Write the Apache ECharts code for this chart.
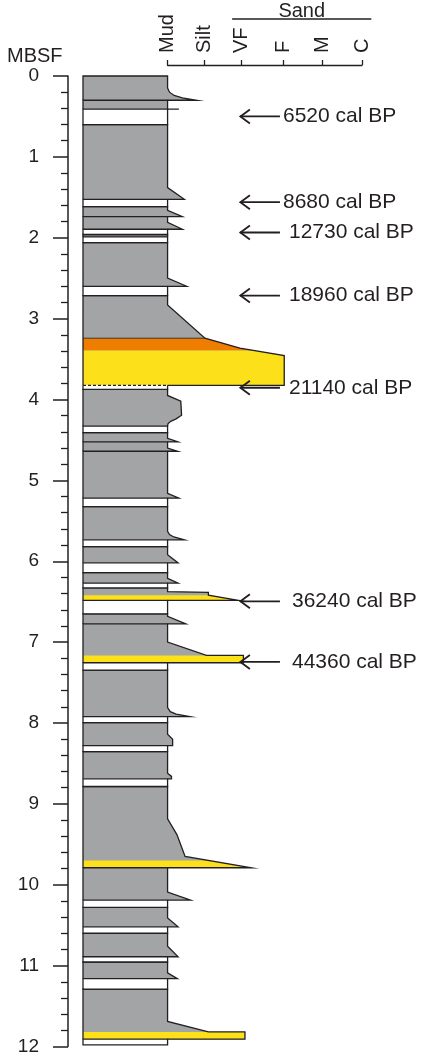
<!DOCTYPE html>
<html>
<head>
<meta charset="utf-8">
<script src="https://cdn.jsdelivr.net/npm/echarts@6/dist/echarts.min.js"></script>
<style>
  html, body { margin: 0; padding: 0; background: #fff; }
  #chart { width: 427px; height: 1056px; }
</style>
</head>
<body>
<div id="chart"></div>
<script>
// ---- Grain-size scale (header) ----
const grainNames  = ['Mud', 'Silt', 'VF', 'F', 'M', 'C'];
const grainValues = [0, 0.94, 1.9, 2.97, 3.98, 5];

// ---- Core depth range (m below sea floor) ----
const depthTop = 0;
const depthBase = 12;

// ---- Beds: right-hand grain-size outline as [depth, grain], top to base ----
const bedEdges = [
  [[0, 0], [0.15, 0], [0.2, 0.05], [0.24, 0.17], [0.27, 0.38], [0.3, 0.75]],
  [[0.3, 0], [0.41, 0], [0.41, 0.29]],
  [[0.6, 0], [1.38, 0], [1.525, 0.43]],
  [[1.615, 0], [1.66, 0], [1.74, 0.38]],
  [[1.74, 0], [1.81, 0], [1.895, 0.38]],
  [[1.96, 0], [1.99, 0]],
  [[2.06, 0], [2.5, 0], [2.6, 0.49]],
  [[2.715, 0], [2.83, 0], [3.242, 0.96], [3.365, 1.86], [3.456, 3.0], [3.825, 3.0]],
  [[3.875, 0], [3.95, 0], [4.02, 0.34], [4.195, 0.36], [4.24, 0.22], [4.27, 0.08], [4.3, 0.01], [4.33, 0]],
  [[4.41, 0], [4.48, 0], [4.525, 0.27]],
  [[4.525, 0], [4.6, 0], [4.64, 0.26]],
  [[4.64, 0], [5.16, 0], [5.22, 0.29]],
  [[5.325, 0], [5.63, 0], [5.67, 0.05], [5.7, 0.16], [5.735, 0.43]],
  [[5.82, 0], [5.92, 0], [6.02, 0.27]],
  [[6.14, 0], [6.21, 0], [6.27, 0.27]],
  [[6.33, 0], [6.375, 0], [6.385, 1.05], [6.42, 1.05], [6.485, 1.82]],
  [[6.65, 0], [6.68, 0], [6.775, 0.47]],
  [[6.775, 0], [7.0, 0], [7.165, 1.0], [7.165, 1.95], [7.255, 1.95]],
  [[7.345, 0], [7.81, 0], [7.86, 0.07], [7.89, 0.22], [7.92, 0.57]],
  [[7.995, 0], [8.14, 0], [8.2, 0.13], [8.28, 0.13]],
  [[8.355, 0], [8.62, 0], [8.66, 0.1], [8.69, 0.1]],
  [[8.785, 0], [9.185, 0], [9.38, 0.24], [9.65, 0.45], [9.79, 2.16]],
  [[9.79, 0], [10.09, 0], [10.19, 0.59]],
  [[10.28, 0], [10.41, 0], [10.52, 0.27]],
  [[10.6, 0], [10.76, 0], [10.89, 0.27]],
  [[10.955, 0], [11.09, 0], [11.16, 0.25]],
  [[11.29, 0], [11.69, 0], [11.82, 1.05], [11.82, 1.99], [11.91, 1.99]]
];

// ---- Sand layers inside beds: [top, base, kind] ----
const sandBands = [
  [3.242, 3.395, 'orange'],
  [3.395, 3.825, 'yellow'],
  [6.42, 6.485, 'yellow'],
  [7.165, 7.255, 'yellow'],
  [9.70, 9.79, 'yellow'],
  [11.82, 11.91, 'yellow']
];

// ---- Intervals without sediment: [top, base] ----
const gaps = [
  [0.41, 0.6], [1.525, 1.615], [1.895, 1.96], [1.99, 2.06], [2.6, 2.715],
  [3.825, 3.875], [4.33, 4.41], [5.22, 5.325], [5.735, 5.82], [6.02, 6.14],
  [6.27, 6.33], [6.485, 6.65], [7.255, 7.345], [7.92, 7.995], [8.28, 8.355],
  [8.69, 8.785], [10.19, 10.28], [10.52, 10.6], [10.89, 10.955], [11.16, 11.29],
  [11.91, 11.98]
];
const dashedGapTops = [3.825];

// ---- Radiocarbon ages ----
const ageDepths = [0.5, 1.56, 1.935, 2.715, 3.855, 6.495, 7.245];
const ageLabels = ['6520 cal BP', '8680 cal BP', '12730 cal BP', '18960 cal BP',
                   '21140 cal BP', '36240 cal BP', '44360 cal BP'];

// ---- Styling ----
const FONT = '"Liberation Sans", Arial, Helvetica, sans-serif';
const INK = '#231f20';
const MUD_FILL = '#a3a4a6';
const BAND_FILL = { orange: '#ef7d00', yellow: '#fce019' };
const X_MIN = -2.175, X_MAX = 5;          // column left edge .. coarse sand
const ARROW_TIP = 1.86, ARROW_END = 2.89;
const LABEL_GAP = [3, 3, 9, 9, 9, 12, 12]; // px between arrow tail and its label

function interpAt(edge, d, fromTop) {
  for (let j = 0; j < edge.length - 1; j++) {
    const a = edge[j], c = edge[j + 1];
    const hit = fromTop ? (d >= a[0] && d < c[0]) : (d > a[0] && d <= c[0]);
    if (hit) {
      const f = (d - a[0]) / (c[0] - a[0]);
      return [d, a[1] + f * (c[1] - a[1])];
    }
  }
  return fromTop ? edge[0] : edge[edge.length - 1];
}

function renderBed(params, api) {
  const edge = bedEdges[api.value(2)];
  const P = (g, d) => api.coord([g, d]);
  const top = edge[0][0], base = edge[edge.length - 1][0];
  const right = edge.map(p => P(p[1], p[0]));
  const children = [{
    type: 'polygon',
    shape: { points: [P(X_MIN, base), P(X_MIN, top)].concat(right) },
    style: { fill: MUD_FILL }
  }];
  sandBands.forEach(b => {
    if (b[0] < top - 1e-9 || b[1] > base + 1e-9) return;
    const a = interpAt(edge, b[0], true), z = interpAt(edge, b[1], false);
    const mid = edge.filter(p => p[0] > b[0] && p[0] < b[1]);
    const pts = [P(X_MIN, b[0]), P(a[1], a[0])]
      .concat(mid.map(p => P(p[1], p[0])))
      .concat([P(z[1], z[0]), P(X_MIN, b[1])]);
    children.push({ type: 'polygon', shape: { points: pts }, style: { fill: BAND_FILL[b[2]] } });
    if (b[2] === 'orange') {
      children.push({ type: 'polyline', shape: { points: [P(X_MIN, b[0]), P(a[1], a[0])] },
        style: { stroke: INK, lineWidth: 0.8, fill: null } });
    }
  });
  // outline: base from flare tip back to mud line, profile up, top, left side down
  const outline = [P(0, base)].concat(right.slice().reverse())
    .concat([P(X_MIN, top), P(X_MIN, base)]);
  children.push({
    type: 'polyline', shape: { points: outline },
    style: { stroke: INK, lineWidth: 1.3, fill: null, lineJoin: 'miter', miterLimit: 20 }
  });
  return { type: 'group', children: children };
}

function renderGap(params, api) {
  const g = gaps[api.value(2)];
  const P = (x, d) => api.coord([x, d]);
  const tl = P(X_MIN, g[0]), br = P(0, g[1]);
  const dashed = dashedGapTops.indexOf(g[0]) >= 0;
  const children = [{
    type: 'rect',
    shape: { x: tl[0], y: tl[1], width: br[0] - tl[0], height: br[1] - tl[1] },
    style: { fill: '#fff', stroke: dashed ? null : INK, lineWidth: 1.3 }
  }];
  if (dashed) {
    children.push({ type: 'polyline', shape: { points: [[br[0], tl[1]], [br[0], br[1]], [tl[0], br[1]], [tl[0], tl[1]]] },
      style: { stroke: INK, lineWidth: 1.3, fill: null } });
    children.push({ type: 'line', shape: { x1: tl[0], y1: tl[1], x2: br[0], y2: tl[1] },
      style: { stroke: INK, lineWidth: 1.3, lineDash: [3, 2] } });
  }
  return { type: 'group', children: children };
}

function renderAge(params, api) {
  const i = api.value(2);
  const tip = api.coord([ARROW_TIP, ageDepths[i]]);
  const end = api.coord([ARROW_END, ageDepths[i]]);
  const line = { stroke: INK, lineWidth: 1.8, fill: null };
  return {
    type: 'group',
    children: [
      { type: 'line', shape: { x1: tip[0], y1: tip[1], x2: end[0], y2: end[1] }, style: line },
      { type: 'polyline', shape: { points: [[tip[0] + 10, tip[1] - 7], [tip[0] + 0.5, tip[1]], [tip[0] + 10, tip[1] + 7]] },
        style: Object.assign({ lineJoin: 'miter' }, line) },
      { type: 'text', style: { text: ageLabels[i], x: end[0] + LABEL_GAP[i], y: end[1], align: 'left', verticalAlign: 'middle',
        font: '21px ' + FONT, fill: INK } }
    ]
  };
}

const chart = echarts.init(document.getElementById('chart'), null, { renderer: 'canvas' });

chart.setOption({
  animation: false,
  backgroundColor: '#fff',
  title: {
    text: 'MBSF', left: 7, top: 46, padding: 0,
    textStyle: { fontFamily: FONT, fontSize: 20, fontWeight: 'normal', color: INK }
  },
  grid: [
    { left: 83, right: 65, top: 76, bottom: 6 },
    { left: 167.6, right: 65, top: 65, height: 10 }
  ],
  xAxis: [
    { gridIndex: 0, type: 'value', min: X_MIN, max: X_MAX, show: false },
    {
      gridIndex: 1, type: 'value', position: 'top', min: 0, max: 5,
      axisLine: { show: true, onZero: false, lineStyle: { color: INK, width: 1.3 } },
      axisTick: { show: true, length: 5, customValues: grainValues, lineStyle: { color: INK, width: 1.3 } },
      axisLabel: {
        show: true, customValues: grainValues, rotate: -90, margin: 12,
        fontSize: 20, fontFamily: FONT, color: INK,
        formatter: v => {
          let k = 0;
          grainValues.forEach((g, j) => { if (Math.abs(g - v) < Math.abs(grainValues[k] - v)) k = j; });
          return grainNames[k];
        }
      },
      splitLine: { show: false }
    }
  ],
  yAxis: [
    {
      gridIndex: 0, type: 'value', inverse: true, min: depthTop, max: depthBase, interval: 1, offset: 15,
      axisLine: { show: true, onZero: false, lineStyle: { color: INK, width: 1.5 } },
      axisTick: { show: true, length: 15, lineStyle: { color: INK, width: 1.5 } },
      minorTick: { show: true, splitNumber: 5, length: 7, lineStyle: { color: INK, width: 1.3 } },
      axisLabel: { margin: 29, fontSize: 19, fontFamily: FONT, color: INK },
      splitLine: { show: false }
    },
    { gridIndex: 1, type: 'value', show: false }
  ],
  series: [
    {
      type: 'custom', name: 'beds', xAxisIndex: 0, yAxisIndex: 0, clip: false,
      renderItem: renderBed, encode: { x: 0, y: 1 },
      data: bedEdges.map((e, i) => [0, e[0][0], i])
    },
    {
      type: 'custom', name: 'gaps', xAxisIndex: 0, yAxisIndex: 0, clip: false,
      renderItem: renderGap, encode: { x: 0, y: 1 },
      data: gaps.map((g, i) => [0, g[0], i])
    },
    {
      type: 'custom', name: 'ages', xAxisIndex: 0, yAxisIndex: 0, clip: false,
      renderItem: renderAge, encode: { x: 0, y: 1 },
      data: ageDepths.map((d, i) => [0, d, i])
    }
  ]
});

// "Sand" bracket over the VF..C classes, placed on the header scale
const sandFrom = chart.convertToPixel({ xAxisIndex: 1 }, 1.66);
const sandTo = chart.convertToPixel({ xAxisIndex: 1 }, 5.24);
chart.setOption({
  graphic: [
    { type: 'line', shape: { x1: sandFrom, y1: 19, x2: sandTo, y2: 19 }, style: { stroke: INK, lineWidth: 1.5 } },
    { type: 'text', x: (sandFrom + sandTo) / 2, y: 21,
      style: { text: 'Sand', align: 'center', verticalAlign: 'bottom', font: '20px ' + FONT, fill: INK } }
  ]
});
</script>
</body>
</html>
